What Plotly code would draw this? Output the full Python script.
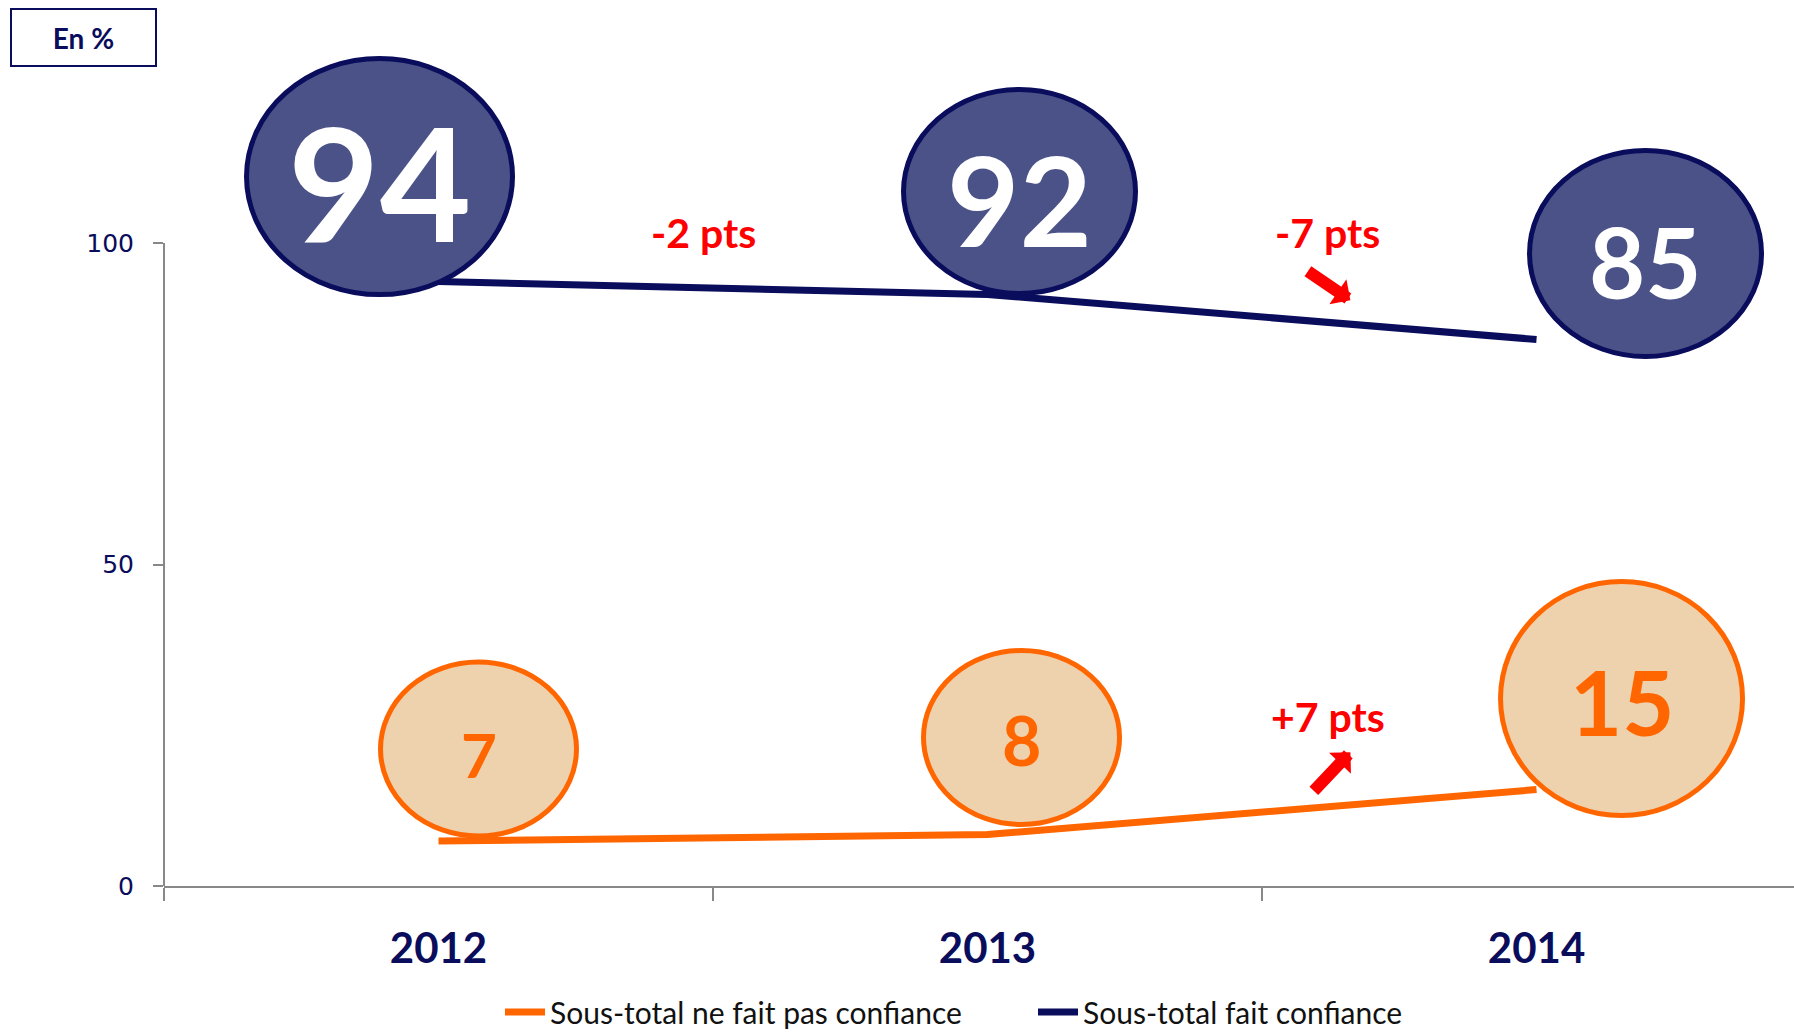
import plotly.graph_objects as go

# ---- data ----
years = ["2012", "2013", "2014"]
fait_confiance = [94, 92, 85]
pas_confiance = [7, 8, 15]
y_ticks = [0, 50, 100]
delta_labels = ["-2 pts", "-7 pts", "+7 pts"]

NAVY = "#0A0C5C"
ORANGE = "#FF6600"
RED = "#FF0000"
NAVY_FILL = "#4A5288"
TAN_FILL = "#EED2AE"

W, H = 1794, 1035
ML, MR, MT, MB = 164, 0, 0, 149
PW, PH = W - ML - MR, H - MT - MB
YMAX = 137.8
XMAX = 2.469

fig = go.Figure()
fig.add_trace(go.Scatter(x=years, y=pas_confiance, mode="lines",
                         name="Sous-total ne fait pas confiance",
                         line=dict(color=ORANGE, width=7), hoverinfo="skip"))
fig.add_trace(go.Scatter(x=years, y=fait_confiance, mode="lines",
                         name="Sous-total fait confiance",
                         line=dict(color=NAVY, width=7), hoverinfo="skip"))

# bubble styles: (dx, dy up, rx, ry, font size, text yshift adj)
navy_bub = [(-59, 105, 133, 118, 158, 8), (32, 103, 116, 102, 125, 2), (109, 86, 116, 103, 97, 0)]
orange_bub = [(40, 92, 98, 87, 62, 0), (34, 97, 98, 87, 68, 4), (85, 91, 121, 117, 90, 5)]

shapes = []
annotations = []

def bubble(i, val, st, fill, line, txtcolor):
    dx, dy, rx, ry, fs, adj = st
    shapes.append(dict(type="circle", xref="x", yref="y", xsizemode="pixel", ysizemode="pixel",
                       xanchor=i, yanchor=val, x0=dx - rx, x1=dx + rx, y0=dy - ry, y1=dy + ry,
                       fillcolor=fill, line=dict(color=line, width=5), layer="above"))
    annotations.append(dict(x=i, y=val, xref="x", yref="y", text=f"<b>{val}</b>", showarrow=False,
                            xshift=dx, yshift=dy - 0.08 * fs + adj,
                            font=dict(family="Lato", size=fs, color=txtcolor)))

for i, v in enumerate(fait_confiance):
    bubble(i, v, navy_bub[i], NAVY_FILL, NAVY, "white")
for i, v in enumerate(pas_confiance):
    bubble(i, v, orange_bub[i], TAN_FILL, ORANGE, ORANGE)

# y axis line (0..100)
shapes.append(dict(type="line", xref="paper", yref="y", x0=0, x1=0, y0=0, y1=100,
                   line=dict(color="#888888", width=2), layer="below"))

# delta labels
delta_pos = [(0.483, 101.6), (1.62, 101.6), (1.62, 26.3)]
for (x, y), t in zip(delta_pos, delta_labels):
    annotations.append(dict(x=x, y=y, xref="x", yref="y", text=f"<b>{t}</b>", showarrow=False,
                            font=dict(family="Lato", size=41, color=RED)))

# arrows
annotations.append(dict(x=1.661, y=91.1, xref="x", yref="y", text="", showarrow=True,
                        ax=-44, ay=-30, arrowhead=1, arrowsize=0.42, arrowwidth=12, arrowcolor=RED))
annotations.append(dict(x=1.661, y=20.8, xref="x", yref="y", text="", showarrow=True,
                        ax=-38, ay=40, arrowhead=1, arrowsize=0.42, arrowwidth=12, arrowcolor=RED))

# En % box
annotations.append(dict(x=(83.5 - ML) / PW, y=(PH - 37.5) / PH, xref="paper", yref="paper",
                        xanchor="center", yanchor="middle",
                        text="<b>En %</b>", showarrow=False, width=141, height=53,
                        bordercolor=NAVY, borderwidth=2, bgcolor="white",
                        font=dict(family="Lato", size=28, color=NAVY)))

fig.update_layout(
    width=W, height=H,
    margin=dict(l=ML, r=MR, t=MT, b=MB, autoexpand=False),
    paper_bgcolor="white", plot_bgcolor="white",
    shapes=shapes, annotations=annotations,
    showlegend=True,
    legend=dict(orientation="h", xref="container", yref="container",
                x=500 / W, xanchor="left", y=(H - 1012) / H, yanchor="middle",
                font=dict(family="Lato", size=30, color="#111111"), itemwidth=40,
                entrywidth=478, entrywidthmode="pixels"),
    xaxis=dict(type="category", range=[-0.5, XMAX], showgrid=False, showline=True,
               linecolor="#888888", linewidth=2, ticks="outside", tickson="boundaries",
               ticklen=13, tickcolor="#888888", tickwidth=2,
               tickfont=dict(family="Lato", size=42, color=NAVY, weight="bold"), ticklabelstandoff=25,
               zeroline=False),
    yaxis=dict(range=[0, YMAX], tickvals=y_ticks, showgrid=False, showline=False,
               ticks="outside", ticklen=10, tickcolor="#888888", tickwidth=2,
               tickfont=dict(family="DejaVu Sans", size=25, color=NAVY), ticklabelstandoff=14,
               zeroline=False),
)

fig.write_html("out.html", config={"displayModeBar": False},
               post_script="document.body.style.margin='0';")
